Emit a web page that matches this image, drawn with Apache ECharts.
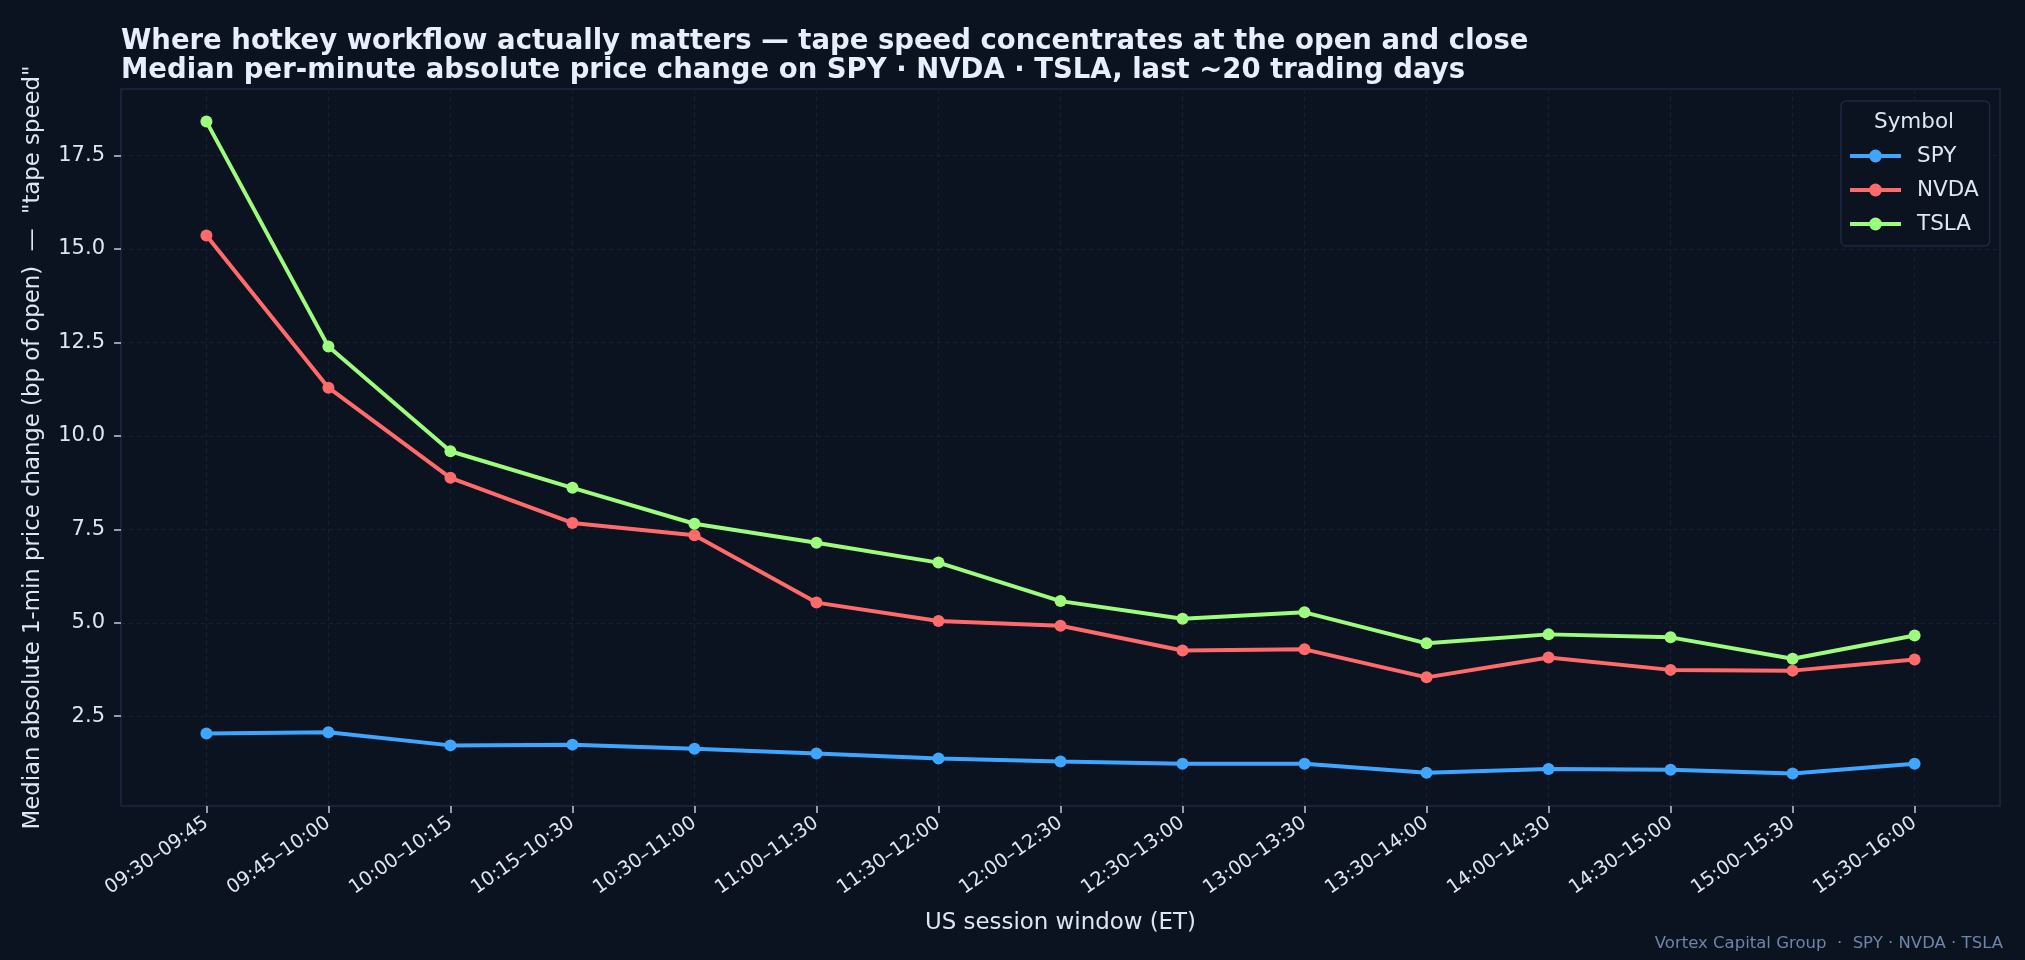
<!DOCTYPE html>
<html>
<head>
<meta charset="utf-8">
<script src="https://cdn.jsdelivr.net/npm/echarts@6/dist/echarts.min.js"></script>
<style>
html,body{margin:0;padding:0;background:#0b1220;}
#chart{width:2025px;height:960px;}
</style>
</head>
<body>
<div id="chart"></div>
<script>
const categories = ["09:30–09:45","09:45–10:00","10:00–10:15","10:15–10:30","10:30–11:00","11:00–11:30","11:30–12:00","12:00–12:30","12:30–13:00","13:00–13:30","13:30–14:00","14:00–14:30","14:30–15:00","15:00–15:30","15:30–16:00"];
const spy  = [2.04, 2.07, 1.72, 1.74, 1.63, 1.50, 1.37, 1.29, 1.23, 1.23, 0.99, 1.09, 1.07, 0.97, 1.23];
const nvda = [15.36, 11.29, 8.88, 7.67, 7.34, 5.54, 5.05, 4.92, 4.26, 4.29, 3.54, 4.07, 3.74, 3.72, 4.02];
const tsla = [18.41, 12.39, 9.59, 8.61, 7.65, 7.14, 6.61, 5.58, 5.11, 5.28, 4.45, 4.69, 4.61, 4.04, 4.66];
const yTicks = [2.5, 5.0, 7.5, 10.0, 12.5, 15.0, 17.5];
const seriesNames = ["SPY", "NVDA", "TSLA"];
const seriesColors = ["#3ea6ff", "#ff6b6b", "#9dfb7e"];

const FONT = "DejaVu Sans";
const TXT = "#dfe6f3";
const xIdx = categories.map((c, i) => i);

const chart = echarts.init(document.getElementById('chart'));
const mk = (name, vals, color) => ({
  name: name,
  type: 'line',
  data: vals.map((v, i) => [i, v]),
  symbol: 'circle',
  symbolSize: 12,
  showSymbol: true,
  lineStyle: { width: 4, color: color },
  itemStyle: { color: color },
  emphasis: { disabled: true },
  animation: false,
  z: 3
});

chart.setOption({
  backgroundColor: '#0b1220',
  animation: false,
  title: {
    text: 'Where hotkey workflow actually matters — tape speed concentrates at the open and close\nMedian per-minute absolute price change on SPY · NVDA · TSLA, last ~20 trading days',
    left: 121, top: 27, padding: 0,
    textStyle: { fontFamily: FONT, fontSize: 27.5, fontWeight: 'bold', color: '#e8eefc', lineHeight: 29.5 }
  },
  grid: {
    left: 121, right: 25, top: 89, bottom: 154,
    show: true, borderColor: '#1d2840', borderWidth: 1.5, backgroundColor: 'transparent'
  },
  legend: {
    orient: 'vertical',
    left: 1841, top: 101,
    padding: [44, 11, 11, 7],
    itemWidth: 51, itemHeight: 16, itemGap: 12,
    backgroundColor: '#0b1220',
    borderColor: '#1d2840', borderWidth: 1.5, borderRadius: 5,
    data: seriesNames,
    lineStyle: { width: 4 },
    textStyle: { fontFamily: FONT, fontSize: 21.5, color: TXT, lineHeight: 22, padding: [0, 0, 0, 11] }
  },
  graphic: [
    { type: 'text', z: 100, left: 1915 - 41, top: 111, style: { text: 'Symbol', fontFamily: FONT, fontSize: 21.5, fill: TXT } },
    { type: 'text', z: 100, right: 22, top: 935.5, style: { text: 'Vortex Capital Group  ·  SPY · NVDA · TSLA', fontFamily: FONT, fontSize: 16.5, fill: '#6f84a8' } }
  ],
  xAxis: {
    type: 'value', min: -0.7, max: 14.7,
    name: 'US session window (ET)', nameLocation: 'middle', nameGap: 106,
    nameTextStyle: { fontFamily: FONT, fontSize: 22.9, color: TXT },
    axisLine: { show: false, onZero: false },
    axisTick: { show: true, length: 7, lineStyle: { color: '#c4ccda', width: 1.5 }, customValues: xIdx },
    axisLabel: {
      customValues: xIdx, rotate: 35, margin: 15,
      fontFamily: FONT, fontSize: 19.3, color: TXT,
      formatter: v => categories[Math.round(v)]
    },
    splitLine: { show: true, lineStyle: { color: '#172136', type: [4, 4], width: 1 } }
  },
  yAxis: {
    type: 'value', min: 0.098, max: 19.282,
    name: 'Median absolute 1-min price change (bp of open)  —  "tape speed"',
    nameLocation: 'middle', nameGap: 76, nameRotate: 90,
    nameTextStyle: { fontFamily: FONT, fontSize: 22.8, color: TXT },
    axisLine: { show: false, onZero: false },
    axisTick: { show: true, length: 7, lineStyle: { color: '#c4ccda', width: 1.5 }, customValues: yTicks },
    axisLabel: {
      customValues: yTicks, margin: 16,
      fontFamily: FONT, fontSize: 21, color: TXT,
      formatter: v => v.toFixed(1)
    },
    splitLine: { show: true, lineStyle: { color: '#172136', type: [4, 4], width: 1 } }
  },
  series: [
    mk(seriesNames[0], spy, seriesColors[0]),
    mk(seriesNames[1], nvda, seriesColors[1]),
    mk(seriesNames[2], tsla, seriesColors[2])
  ]
});
</script>
</body>
</html>
